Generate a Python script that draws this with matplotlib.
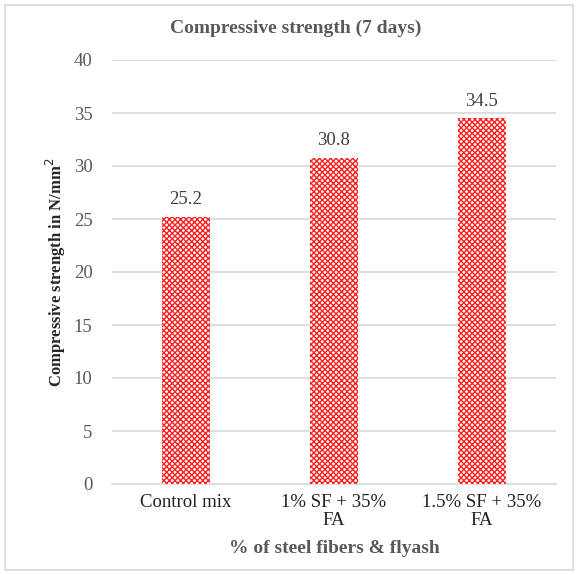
import matplotlib
matplotlib.use("Agg")
import matplotlib.pyplot as plt
from matplotlib.patches import Rectangle

categories = ["Control mix", "1% SF + 35%\nFA", "1.5% SF + 35%\nFA"]
values = [25.2, 30.8, 34.5]
value_labels = ["25.2", "30.8", "34.5"]
yticks = [0, 5, 10, 15, 20, 25, 30, 35, 40]

plt.rcParams['font.family'] = ['Liberation Serif', 'DejaVu Serif']
plt.rcParams['hatch.linewidth'] = 1.0
plt.rcParams['hatch.color'] = '#ff2020'

fig = plt.figure(figsize=(5.79, 5.75), dpi=100)
fig.patches.append(Rectangle((5/579, 5/575), 568/579, 565/575, transform=fig.transFigure,
                             fill=False, edgecolor='#d9d9d9', linewidth=1.2))
ax = fig.add_axes([112/579, 1-484/575, 444/579, 424/575])
x = list(range(len(categories)))
bars = ax.bar(x, values, width=0.33, color='white', edgecolor='#ff2020',
              hatch='xxxxxx', linewidth=0, zorder=3)
for xi, v, lab in zip(x, values, value_labels):
    ax.text(xi, v + 0.8, lab, ha='center', va='bottom', fontsize=13.5, color='#404040')
ax.set_ylim(0, 40)
ax.set_xlim(-0.5, 2.5)
ax.set_yticks(yticks)
ax.set_yticklabels([str(t) for t in yticks], fontsize=13.5, color='#595959')
ax.set_xticks(x)
ax.set_xticklabels(categories, fontsize=13.5, color='#202020', linespacing=1.1)
ax.yaxis.grid(True, color='#d9d9d9', linewidth=1.2, zorder=0)
ax.set_axisbelow(True)
for s in ['top', 'right', 'left']:
    ax.spines[s].set_visible(False)
ax.spines['bottom'].set_color('#d9d9d9')
ax.spines['bottom'].set_linewidth(1.2)
ax.tick_params(axis='both', length=0)
ax.tick_params(axis='y', pad=14)
ax.tick_params(axis='x', pad=7)
ax.set_ylabel('Compressive strength in N/mm$^2$', fontsize=12, fontweight='bold',
              color='#262626', labelpad=4)
ax.set_xlabel('% of steel fibers & flyash', fontsize=14, fontweight='bold',
              color='#595959', labelpad=8)
fig.text(296/579, 1-28/575, 'Compressive strength (7 days)', ha='center', va='center',
         fontsize=14, fontweight='bold', color='#595959')
fig.savefig('out.png', dpi=100)
